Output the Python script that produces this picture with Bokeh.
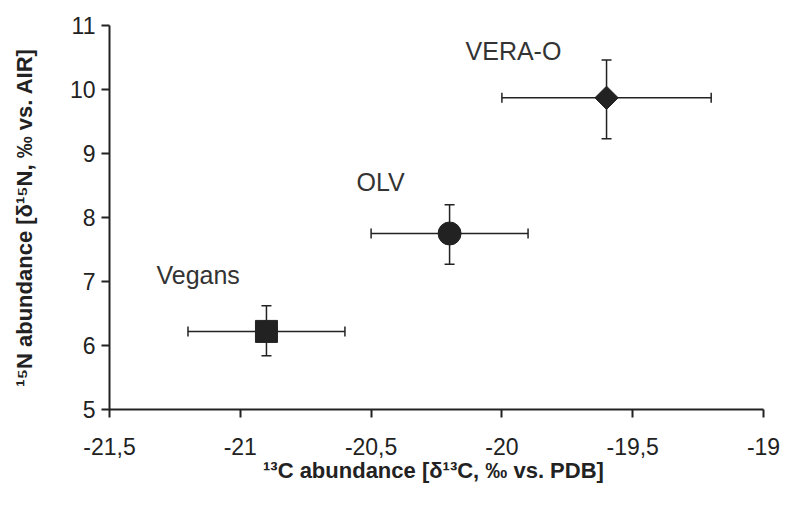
import math
from bokeh.plotting import figure
from bokeh.models import Range1d, Whisker, ColumnDataSource, FixedTicker, TeeHead
from bokeh.core.properties import value
from bokeh.embed import file_html
from bokeh.resources import INLINE

# ---- data ----
groups = ["Vegans", "OLV", "VERA-O"]
d13c = [-20.9, -20.2, -19.6]
d13c_low = [-21.2, -20.5, -20.0]
d13c_high = [-20.6, -19.9, -19.2]
d15n = [6.22, 7.75, 9.87]
d15n_low = [5.84, 7.27, 9.23]
d15n_high = [6.62, 8.2, 10.46]

x_ticks = [-21.5, -21.0, -20.5, -20.0, -19.5, -19.0]
x_tick_labels = ["-21,5", "-21", "-20,5", "-20", "-19,5", "-19"]
y_ticks = [5, 6, 7, 8, 9, 10, 11]
y_tick_labels = ["5", "6", "7", "8", "9", "10", "11"]

x_title = "\u00b9\u00b3C abundance [\u03b4\u00b9\u00b3C,  \u2030 vs. PDB]"
y_title = "\u00b9\u2075N abundance [\u03b4\u00b9\u2075N, \u2030 vs. AIR]"

FONT = "Liberation Sans"
INK = "#222222"

src = ColumnDataSource(dict(
    x=d13c, y=d15n, xl=d13c_low, xh=d13c_high, yl=d15n_low, yh=d15n_high,
    name=groups,
    xo=[-110, -93, -141], yo=[-56, -52, -47],
))

p = figure(width=780, height=500, output_backend="svg", toolbar_location=None,
           x_range=Range1d(-21.5, -19.0), y_range=Range1d(5, 11),
           min_border_left=109, min_border_right=17, min_border_top=25,
           min_border_bottom=91)
p.outline_line_color = None
p.grid.visible = False
p.background_fill_color = "white"
p.border_fill_color = "white"

for ax in (p.xaxis[0], p.yaxis[0]):
    ax.axis_line_color = INK
    ax.axis_line_width = 2
    ax.major_tick_line_color = INK
    ax.major_tick_line_width = 2
    ax.major_tick_in = 0
    ax.minor_tick_line_color = None
    ax.major_label_text_font = FONT
    ax.major_label_text_font_size = "23px"
    ax.major_label_text_color = INK
    ax.axis_label_text_font = FONT
    ax.axis_label_text_font_size = "22px"
    ax.axis_label_text_font_style = "bold"
    ax.axis_label_text_color = INK

p.xaxis.ticker = FixedTicker(ticks=x_ticks)
p.xaxis.major_label_overrides = {t: l for t, l in zip(x_ticks, x_tick_labels)}
p.xaxis.major_tick_out = 8
p.xaxis.major_label_standoff = 20
p.xaxis.axis_label = x_title
p.xaxis.axis_label_standoff = 0

p.yaxis.ticker = FixedTicker(ticks=y_ticks)
p.yaxis.major_label_overrides = {t: l for t, l in zip(y_ticks, y_tick_labels)}
p.yaxis.major_tick_out = 8
p.yaxis.major_label_standoff = 6
p.yaxis.axis_label = y_title
p.yaxis.axis_label_standoff = 30

# error bars
wx = Whisker(base="y", lower="xl", upper="xh", dimension="width", source=src,
             line_color=INK, line_width=1.5, level="underlay",
             lower_head=TeeHead(size=10, line_color=INK, line_width=1.5),
             upper_head=TeeHead(size=10, line_color=INK, line_width=1.5))
wy = Whisker(base="x", lower="yl", upper="yh", dimension="height", source=src,
             line_color=INK, line_width=1.5, level="underlay",
             lower_head=TeeHead(size=10, line_color=INK, line_width=1.5),
             upper_head=TeeHead(size=10, line_color=INK, line_width=1.5))
p.add_layout(wx)
p.add_layout(wy)

# markers
p.scatter(x=[d13c[0]], y=[d15n[0]], marker="square", size=22,
          fill_color=INK, line_color=INK)
p.scatter(x=[d13c[1]], y=[d15n[1]], marker="circle", size=23,
          fill_color=INK, line_color=INK)
p.scatter(x=[d13c[2]], y=[d15n[2]], marker="square", size=16.5,
          angle=math.pi / 4, fill_color=INK, line_color=INK)

# group labels
p.text(x="x", y="y", text="name", source=src, x_offset="xo", y_offset="yo",
       text_font=value(FONT), text_font_size="25px", text_color="#333333",
       text_align="left", text_baseline="alphabetic")

open("out.html", "w").write(file_html(p, INLINE))
